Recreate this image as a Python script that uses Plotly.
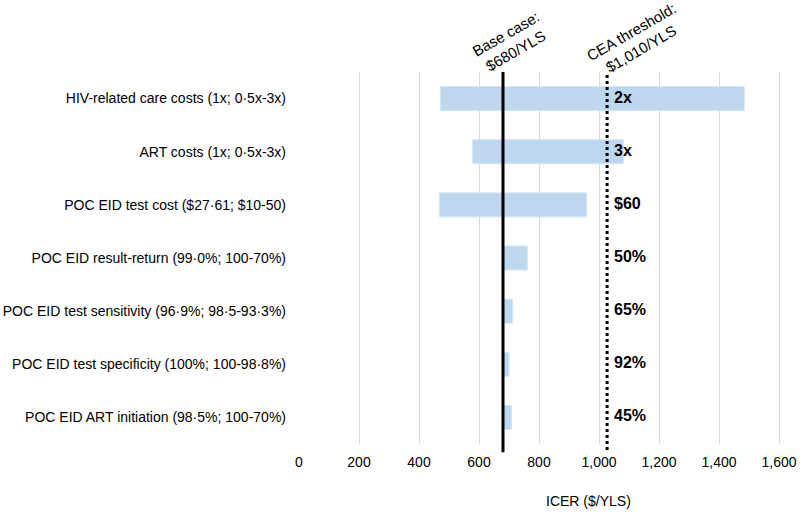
import plotly.graph_objects as go

categories = [
    "HIV-related care costs (1x; 0·5x-3x)",
    "ART costs (1x; 0·5x-3x)",
    "POC EID test cost ($27·61; $10-50)",
    "POC EID result-return (99·0%; 100-70%)",
    "POC EID test sensitivity (96·9%; 98·5-93·3%)",
    "POC EID test specificity (100%; 100-98·8%)",
    "POC EID ART initiation (98·5%; 100-70%)",
]
low_icer = [472, 579, 468, 680, 680, 680, 680]
high_icer = [1484, 1081, 959, 761, 712, 700, 708]
threshold_labels = ["2x", "3x", "$60", "50%", "65%", "92%", "45%"]
base_case = 680
cea_threshold_pos = 1027
label_x = 1050
tick_vals = [0, 200, 400, 600, 800, 1000, 1200, 1400, 1600]
tick_text = ["0", "200", "400", "600", "800", "1,000", "1,200", "1,400", "1,600"]

FONT = "Liberation Sans, Arial, sans-serif"

fig = go.Figure()
fig.add_trace(go.Bar(
    y=categories,
    x=[h - l for l, h in zip(low_icer, high_icer)],
    base=low_icer,
    orientation="h",
    marker=dict(color="#bdd7ee", line=dict(color="#d3e4f4", width=1)),
    hoverinfo="skip",
    showlegend=False,
))
fig.add_trace(go.Scatter(
    y=categories,
    x=[label_x] * len(categories),
    mode="text",
    text=threshold_labels,
    textposition="middle right",
    textfont=dict(family=FONT, size=16, color="black", weight="bold"),
    showlegend=False,
    hoverinfo="skip",
    cliponaxis=False,
))

fig.add_shape(type="line", xref="x", yref="paper", x0=base_case, x1=base_case,
              y0=-0.022, y1=1.0, line=dict(color="black", width=3))
fig.add_shape(type="line", xref="x", yref="paper", x0=cea_threshold_pos, x1=cea_threshold_pos,
              y0=-0.016, y1=1.0, line=dict(color="black", width=3, dash="dot"))

fig.add_annotation(text="Base case:<br>$680/YLS", xref="paper", yref="paper",
                   x=0.428, y=1.078, showarrow=False, textangle=-30,
                   font=dict(family=FONT, size=15, color="black"),
                   xanchor="center", yanchor="middle")
fig.add_annotation(text="CEA threshold:<br>$1,010/YLS", xref="paper", yref="paper",
                   x=0.681, y=1.086, showarrow=False, textangle=-30,
                   font=dict(family=FONT, size=15, color="black"),
                   xanchor="center", yanchor="middle")
fig.add_annotation(text="ICER ($/YLS)", xref="paper", yref="paper",
                   x=(588 - 299) / 495, y=-0.153, showarrow=False,
                   font=dict(family=FONT, size=14, color="black"),
                   xanchor="center", yanchor="middle")

fig.update_layout(
    width=800, height=512,
    margin=dict(l=299, r=6, t=72, b=68),
    plot_bgcolor="white", paper_bgcolor="white",
    bargap=0.55,
    font=dict(family=FONT, size=14, color="black"),
    xaxis=dict(range=[0, 1650], tickvals=tick_vals, ticktext=tick_text,
               showgrid=True, gridcolor="#d9d9d9", gridwidth=1, zeroline=False,
               showline=False, ticks="", tickfont=dict(size=14), automargin=False,
               ticklabelstandoff=8),
    yaxis=dict(autorange="reversed", showgrid=False, ticks="", ticklabelstandoff=12,
               tickfont=dict(size=14), showline=False, automargin=False),
)
fig.write_html("out.html", config={"displayModeBar": False},
               post_script="document.body.style.margin='0';document.body.style.overflow='hidden';")
